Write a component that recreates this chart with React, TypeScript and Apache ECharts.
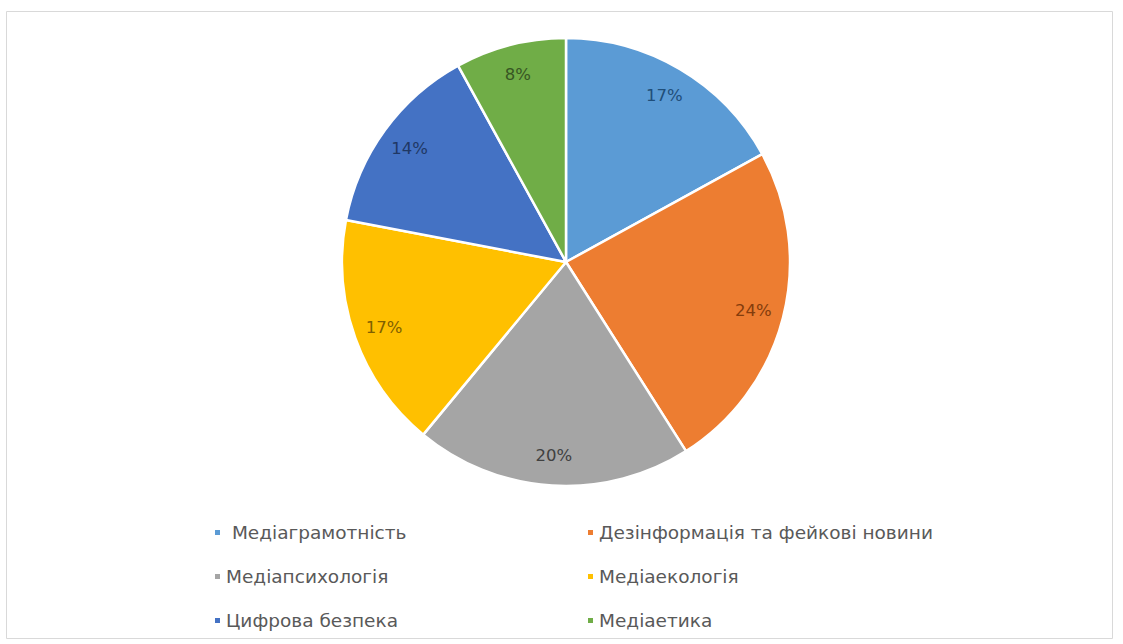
import React, { useEffect, useRef } from "react";
import * as echarts from "echarts";

const categories = [
  "Медіаграмотність",
  "Дезінформація та фейкові новини",
  "Медіапсихологія",
  "Медіаекологія",
  "Цифрова безпека",
  "Медіаетика",
];
const values = [17, 24, 20, 17, 14, 8];
const sliceColors = ["#5B9BD5", "#ED7D31", "#A5A5A5", "#FFC000", "#4472C4", "#70AD47"];
const labelColors = ["#1F4E79", "#843C0C", "#404040", "#7F6000", "#203864", "#375623"];

export default function App() {
  const ref = useRef<HTMLDivElement>(null);
  useEffect(() => {
    if (!ref.current) return;
    const chart = echarts.init(ref.current, null, { renderer: "svg" });
    const R = 224;
    const font = "'DejaVu Sans', 'Open Sans', sans-serif";
    const legendBase = {
      orient: "vertical" as const,
      icon: "rect",
      itemWidth: 7,
      itemHeight: 7,
      itemGap: 23,
      selectedMode: false,
      textStyle: { color: "#595959", fontSize: 18.5, fontFamily: font, lineHeight: 21 },
      formatter: (n: string) => (n === categories[0] ? "\u00a0" + n : n),
    };
    chart.setOption({
      animation: false,
      color: sliceColors,
      graphic: [
        {
          type: "rect",
          shape: { x: 6.5, y: 11.5, width: 1106, height: 627 },
          style: { fill: "none", stroke: "#d9d9d9", lineWidth: 1 },
          silent: true,
        },
      ],
      legend: [
        { ...legendBase, left: 208, top: 517, data: [categories[0], categories[2], categories[4]] },
        { ...legendBase, left: 581, top: 517, data: [categories[1], categories[3], categories[5]] },
      ],
      series: [
        {
          type: "pie",
          center: [566, 262],
          radius: R,
          startAngle: 90,
          clockwise: true,
          silent: true,
          label: { show: false },
          labelLine: { show: false },
          itemStyle: { borderColor: "#ffffff", borderWidth: 2.5 },
          data: categories.map((n, i) => ({ name: n, value: values[i] })),
        },
        {
          type: "pie",
          center: [566, 262],
          radius: [R * 0.7, R],
          startAngle: 90,
          clockwise: true,
          silent: true,
          itemStyle: { color: "rgba(0,0,0,0)", borderWidth: 0 },
          label: {
            show: true,
            position: "inside",
            fontSize: 16.5,
            fontFamily: font,
            formatter: (p: any) => Math.round(p.percent) + "%",
          },
          labelLine: { show: false },
          data: categories.map((n, i) => ({
            name: n,
            value: values[i],
            label: { color: labelColors[i] },
          })),
        },
      ],
    });
    return () => chart.dispose();
  }, []);
  return (
    <div
      ref={ref}
      style={{ position: "fixed", left: 0, top: 0, width: 1123, height: 644, background: "#fff" }}
    />
  );
}
